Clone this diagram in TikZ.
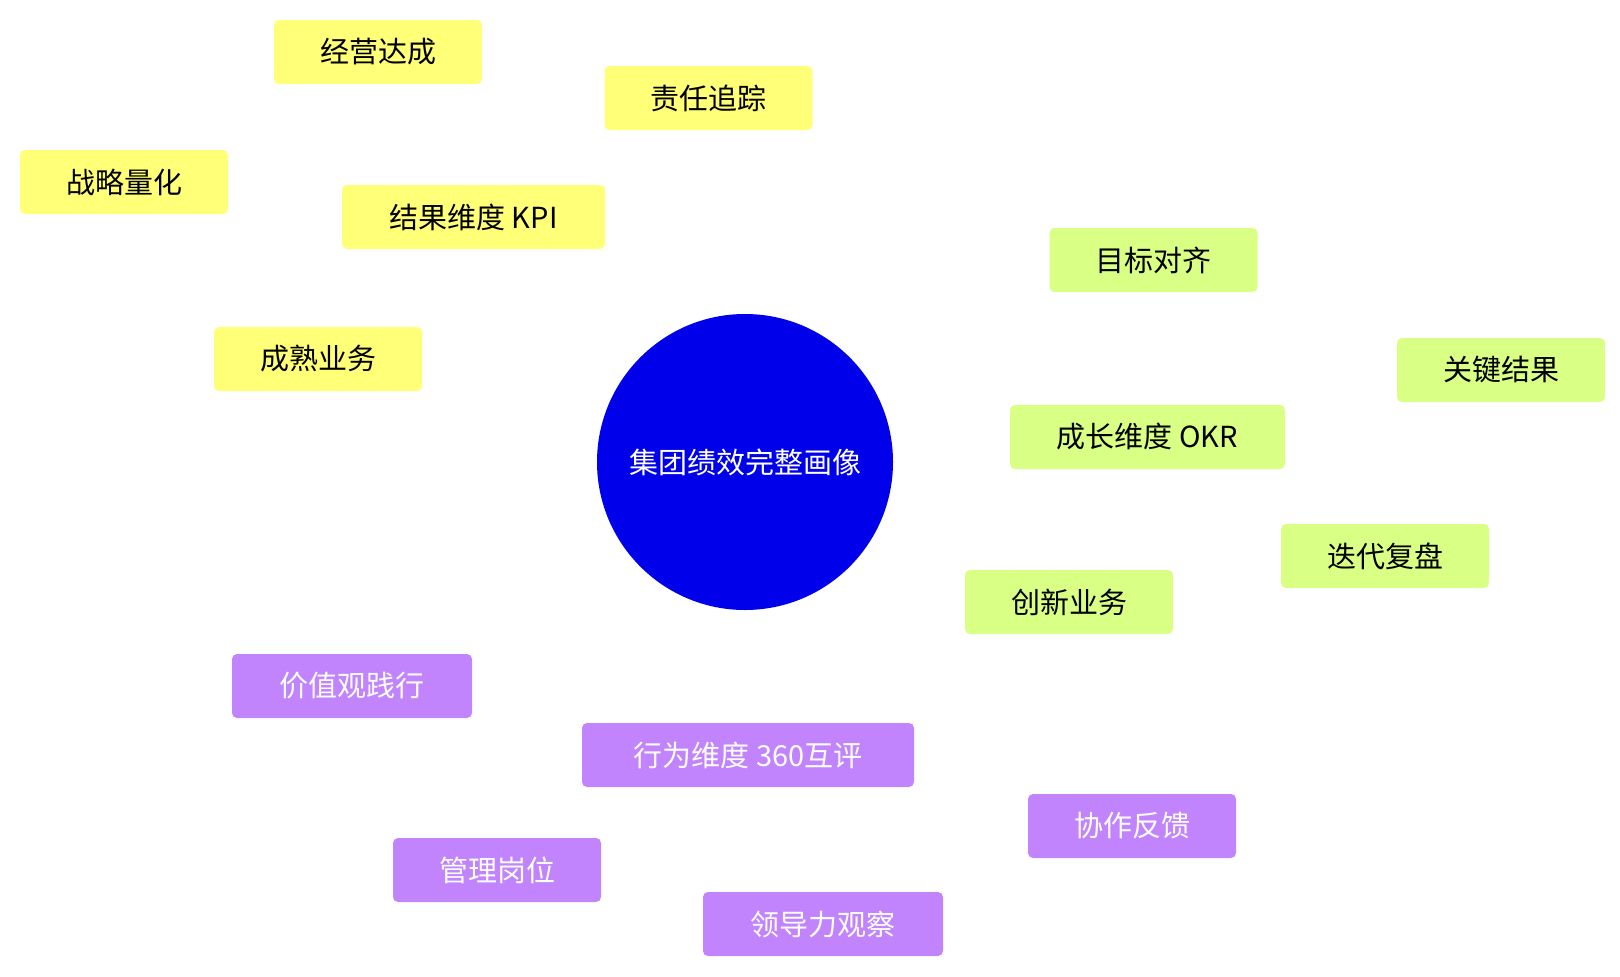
\documentclass[tikz,border=0pt]{standalone}
\usepackage{fontspec}
\newfontfamily\cjk{Noto Sans CJK SC}
\definecolor{ky}{HTML}{FFFF78}
\definecolor{kb}{HTML}{AAAAFF}
\definecolor{og}{HTML}{D9FF85}
\definecolor{ob}{HTML}{D3B8FF}
\definecolor{bp}{HTML}{C184FD}
\definecolor{bg}{HTML}{E0FFC0}
\definecolor{cb}{HTML}{0000EA}
\begin{document}
\begin{tikzpicture}[x=1pt,y=-1pt,
  box/.style={rectangle,rounded corners=5pt,inner sep=0pt,font=\cjk\fontsize{29}{32}\selectfont},
  kbox/.style={box,fill=ky,text=black},
  obox/.style={box,fill=og,text=black},
  bbox/.style={box,fill=bp,text=white},
  sec/.style={line width=12pt,line cap=round},
  leaf/.style={line width=7pt},
]
\useasboundingbox (0,0) rectangle (1620,977);
% nodes
\node[kbox,minimum width=263pt,minimum height=64pt] (kpi) at (473.5,217) {结果维度 KPI};
\node[kbox,minimum width=208pt,minimum height=64pt] (k1) at (378,52) {经营达成};
\node[kbox,minimum width=208pt,minimum height=64pt] (k2) at (708.5,98) {责任追踪};
\node[kbox,minimum width=208pt,minimum height=64pt] (k3) at (124,182) {战略量化};
\node[kbox,minimum width=208pt,minimum height=64pt] (k4) at (318,359) {成熟业务};
\node[obox,minimum width=275pt,minimum height=64pt] (okr) at (1147.5,437) {成长维度 OKR};
\node[obox,minimum width=208pt,minimum height=64pt] (o1) at (1153.5,260) {目标对齐};
\node[obox,minimum width=208pt,minimum height=64pt] (o2) at (1501,370) {关键结果};
\node[obox,minimum width=208pt,minimum height=64pt] (o3) at (1385,556) {迭代复盘};
\node[obox,minimum width=208pt,minimum height=64pt] (o4) at (1069,602) {创新业务};
\node[bbox,minimum width=332pt,minimum height=64pt] (b) at (748,755) {行为维度 360互评};
\node[bbox,minimum width=240pt,minimum height=64pt] (b1) at (352,686) {价值观践行};
\node[bbox,minimum width=208pt,minimum height=64pt] (b2) at (1132,826) {协作反馈};
\node[bbox,minimum width=208pt,minimum height=64pt] (b3) at (497,870) {管理岗位};
\node[bbox,minimum width=240pt,minimum height=64pt] (b4) at (823,924) {领导力观察};
\node[circle,fill=cb,minimum size=296pt,inner sep=0pt,text=white,font=\cjk\fontsize{29}{32}\selectfont] (c) at (745,462) {集团绩效完整画像};
% edges behind
\begin{scope}[on background layer/.try]
\end{scope}
\begin{pgfonlayer}{main}\end{pgfonlayer}
\end{tikzpicture}
\end{document}
